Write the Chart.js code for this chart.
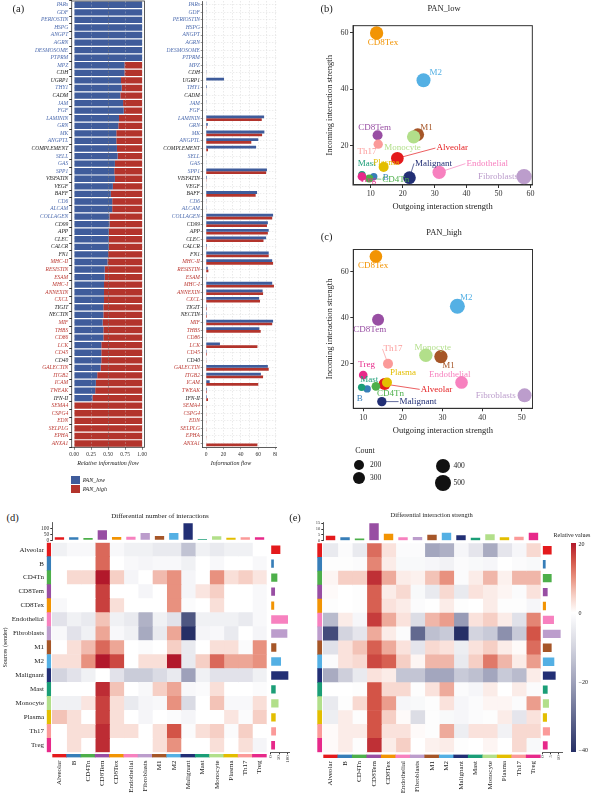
<!DOCTYPE html>
<html><head><meta charset="utf-8">
<script src="https://cdn.jsdelivr.net/npm/chart.js@4.4.1/dist/chart.umd.min.js"></script>
<style>
html,body{margin:0;padding:0;background:#fff;}
body{width:594px;height:794px;position:relative;overflow:hidden;font-family:'Liberation Serif','DejaVu Serif',serif;}
canvas{position:absolute;}
.t{position:absolute;white-space:nowrap;color:#222;line-height:1;}
.sw{position:absolute;}
</style></head><body>
<script>
// ================= DATA =================
const pathways = ['PARs','GDF','PERIOSTIN','HSPG','ANGPT','AGRN','DESMOSOME','PTPRM','MPZ','CDH','UGRP1','THY1','CADM','JAM','FGF','LAMININ','GRN','MK','ANGPTL','COMPLEMENT','SELL','GAS','SPP1','VISFATIN','VEGF','BAFF','CD6','ALCAM','COLLAGEN','CD99','APP','CLEC','CALCR','FN1','MHC-II','RESISTIN','ESAM','MHC-I','ANNEXIN','CXCL','TIGIT','NECTIN','MIF','THBS','CD86','LCK','CD45','CD40','GALECTIN','ITGB2','ICAM','TWEAK','IFN-II','SEMA4','CSPG4','EDN','SELPLG','EPHA','ANXA1'];
// b = enriched in PAN_low, r = enriched in PAN_high, k = not significant
const pathwayEnriched = ('bbbbbbbbb'+'kk'+'b'+'k'+'bbbbbb'+'k'+'bbb'+'kkk'+'bbb'+'kkkkk'+'rrrrrr'+'kk'+'rrrrr'+'k'+'rrrr'+'k'+'rrrrrr').split('');
const relFlowLow = [1,1,1,1,1,1,1,1,0.74,0.74,0.69,0.70,0.68,0.72,0.73,0.66,0.65,0.62,0.62,0.63,0.64,0.60,0.59,0.60,0.57,0.54,0.56,0.56,0.52,0.52,0.51,0.51,0.51,0.50,0.49,0.45,0.45,0.44,0.44,0.44,0.43,0.43,0.42,0.43,0.43,0.40,0.40,0.40,0.39,0.34,0.32,0.31,0.27,0,0,0,0,0,0];
const relFlowHigh = [0,0,0,0,0,0,0,0,0.26,0.26,0.31,0.30,0.32,0.28,0.27,0.34,0.35,0.38,0.38,0.37,0.36,0.40,0.41,0.40,0.43,0.46,0.44,0.44,0.48,0.48,0.49,0.49,0.49,0.50,0.51,0.55,0.55,0.56,0.56,0.56,0.57,0.57,0.58,0.57,0.57,0.60,0.60,0.60,0.61,0.66,0.68,0.69,0.73,1,1,1,1,1,1];
const flowLow = [0.5,0.4,0.3,0.4,0.3,0.3,0.3,0.3,0.4,0.5,20.7,1.0,0.5,0.5,0.4,66.7,2.0,67,60,57.5,0.5,0.4,70,1.0,0.5,58.6,0.5,0.5,77,71,72,69,1.0,72,76,2.0,0.5,76,65,61,0.8,0.8,77,61.3,0.4,16,0.8,0.4,71,63,4.2,1.0,1.0,0,0,0,0,0,0];
const flowHigh = [0,0,0,0,0,0,0,0,0.2,0.2,0.3,0.4,0.3,0.3,0.3,64,0.8,64.4,52,2.3,0.3,0.3,69,0.6,0.4,57,0.4,0.4,76,70,71,66,0.8,72,77,2.7,0.6,78,65.5,62,1.0,1.0,76,62.8,0.5,59,1.0,0.5,72,65.5,60,1.0,2.3,0.5,0.5,0.5,0.5,0.5,59];
const relTicks = [0,0.25,0.5,0.75,1];
const flowTicks = [0,10,20,30,40,50,60,70,80];

const cellTypes = ['Alveolar','B','CD4Tn','CD8Tem','CD8Tex','Endothelial','Fibroblasts','M1','M2','Malignant','Mast','Monocyte','Plasma','Th17','Treg'];
const cellColors = ['#E41A1C','#377EB8','#4DAF4A','#984EA3','#F29403','#F781BF','#BC9DCC','#A65628','#54B0E4','#222F75','#1B9E77','#B2DF8A','#E3BE00','#FB9A99','#E7298A'];

const outgoingLow = [18.3,10.9,9.5,12.1,11.8,31.4,58.0,24.7,26.5,22.1,7.2,23.4,14.0,12.3,7.2];
const incomingLow = [15.5,9.0,8.3,23.7,60.0,10.5,9.0,23.9,43.2,8.6,9.7,23.1,12.4,20.5,9.0];
const countLow    = [333,67,100,200,367,367,467,333,400,333,67,367,200,167,133];
const outgoingHigh = [15.4,11.0,13.2,13.75,13.2,34.8,50.7,29.6,33.75,14.7,9.6,25.8,16.0,16.25,10.0];
const incomingHigh = [11.3,9.2,10.3,39.2,66.6,12.0,6.4,23.2,45.0,3.7,9.9,23.8,12.0,20.1,15.2];
const countHigh    = [300,67,133,300,333,333,400,367,450,167,67,367,200,200,133];
const countLegend = [200,300,400,500];

const diffCountMatrix = [
 [-1,-0.5,-0.5,4,-0.5,-1,-1,-1.5,-1.5,-4,-1,-1.5,-1,-1,0],
 [0,0,0,4,0,-0.5,-0.7,-0.5,-0.5,-1,0,-0.5,0,0,-0.5],
 [0,1.2,1.2,6,1.5,-0.7,0,2,3,-0.7,0,3,1,1.5,0.8],
 [0,0,0,5,0,0,-0.7,0,3,-0.7,0.8,1.5,0,0,-0.5],
 [-0.5,0,0,5,1,0,0,0,3,-0.3,0,1,0,0,-0.5],
 [-2,-1,-1.5,1.8,-1,-1.5,-5,-1,-2,-10,-1,-1,-1,-1.5,-0.5],
 [-0.5,-2,-1,2.5,-0.5,-1,-5.5,-1.5,2.5,-12,-0.7,-0.5,-1.5,0,-0.7],
 [0,1,2,4,2.5,0,-0.3,0,1.5,-1.5,0,1,1,-0.3,3],
 [1,1,3,6,4.8,0,1,1,6,-1.5,1.5,4,2.5,2.5,3],
 [-3,-2,-1,0,-2,-3.5,-3.5,-2.5,-1.5,-6,-1,-2,-2,-2,-1],
 [0,0,0,5.5,1.8,0,-0.5,1.5,2.5,-0.5,-0.3,1,0,0,-0.3],
 [-1,-1,0.8,5,1,-1.5,-0.7,-0.5,3,-2.5,0,1.8,-0.5,-0.5,1],
 [1.8,1,0,5,1,0,-0.7,0,-0.3,-0.7,0,0,0.8,-0.3,1.5],
 [0,1,1,5.5,1,1,0,1,4.5,-0.3,1,1.5,-0.3,1.5,0],
 [0,1,0,5.5,0,0,0,1,3,0,0,1,0,1,-0.7]
];
const diffStrengthMatrix = [
 [-5,-1,-5,13,3,-1,-1,-19,-17,-2,-6,-18,-6,-2,4],
 [-0.5,-0.5,-1,11,2,-1.5,-1.5,-2,-3,-1,-1.5,-2,0,-1,-1.5],
 [1,5,5,18,8,2,1.5,6,10,-1,2,7,1.5,7,7],
 [0.5,0,-0.5,14,2,4,-1.5,-5,4,-5,3,2,1,-1,3],
 [-0.5,0,-0.5,14,3,2,-1,-0.2,2,-0.5,0,2,-0.5,-0.5,-2],
 [-15,2,-2,17,8,3,-8,7,9,-21,3,5,2,-7,11],
 [-35,-10,-6,8,2,-1,-30,-14,-12,-40,-10,-12,-23,-12,15],
 [-7,3,6,14,8,3,-6,4,3,-4,3,5,2,0.5,13],
 [-1,3,4,16,14,5,1,7,7,-5,5,12,7,2,9],
 [-18,-11,-5,3,2,-13,-13,-19,-19,-12,-14,-19,-12,-15,2],
 [0,0,-0.5,15,4,4,-0.5,3,8,-1,-2,2,0,2,-1],
 [-5,-0.5,4,15,9,-2,-1.5,-0.5,3,-2,-1,1,1,-1,9],
 [-4,2,-0.5,15,5,0.5,-8,-0.5,-1.5,-2,-1,-0.5,2,-6,3],
 [0.5,2,2,15,3,3,0.5,-0.5,8,-4,3,3,-3,4,4],
 [0.5,2,-0.5,18,2,5,0,1.5,2,-0.5,0,1,0,4,-1.5]
];
const topBarsCount = [25,25,20,83,28,30,61,36,61,142,11,33,22,25,25];
const sideBarsCount = [58,19,40,26,21,104,100,34,62,106,30,47,30,32,26];
const topBarsStrength = [4.3,2.9,2.0,15,6,2.9,3.2,5.2,6.9,4.6,2.6,5.5,2.9,3.5,6.9];
const sideBarsStrength = [5.6,2,5.6,3.2,2.2,7,11,5.6,7.2,8,3.2,4,2.8,4.6,3.2];
const countTicks = [0,50,100];
const strengthTopTicks = [0,5,10,15];
const strengthSideTicks = [0,5,10];
const colorbarTicks = [20,0,-20,-40];

// ================= STYLE / HELPERS =================
const SERIF = "'Liberation Serif','DejaVu Serif',serif";
const BLUE = '#3F5C9B', RED = '#B3342C';
const LABEL_COLORS = {b:'#4B6AAE', r:'#BC3A33', k:'#1a1a1a'};
const POS_STOPS = [[0,'#FFFFFF'],[0.25,'#F6CFC5'],[0.5,'#E8917F'],[0.75,'#D35447'],[1,'#B2182B']];
const NEG_STOPS = [[0,'#FFFFFF'],[0.25,'#D3D4DF'],[0.5,'#9EA1BA'],[0.75,'#62698F'],[1,'#262F66']];
function hex2rgb(h){return [parseInt(h.slice(1,3),16),parseInt(h.slice(3,5),16),parseInt(h.slice(5,7),16)];}
function ramp(stops,t){t=Math.max(0,Math.min(1,t));for(let i=1;i<stops.length;i++){if(t<=stops[i][0]){const t0=stops[i-1][0],t1=stops[i][0];const f=(t-t0)/(t1-t0);const a=hex2rgb(stops[i-1][1]),b=hex2rgb(stops[i][1]);return 'rgb('+a.map((v,k)=>Math.round(v+(b[k]-v)*f)).join(',')+')';}}return stops[stops.length-1][1];}
function valueColor(v,pmax,nmax){return v>=0?ramp(POS_STOPS,v/pmax):ramp(NEG_STOPS,-v/nmax);}
function setTicks(list){return s=>{s.ticks=list.map(v=>({value:v}));};}

Chart.defaults.font.family = SERIF;
const framePlugin = {id:'frame', afterDatasetsDraw(chart,args,o){ if(!o||!o.color) return; const a=chart.chartArea,ctx=chart.ctx; ctx.save(); ctx.strokeStyle=o.color; ctx.lineWidth=o.width||1; ctx.strokeRect(a.left,a.top,a.right-a.left,a.bottom-a.top); ctx.restore(); }};
const bubbleLabels = {id:'bubbleLabels',
  beforeDatasetsDraw(chart,args,o){ if(!o||!o.names) return; const ctx=chart.ctx; const meta=chart.getDatasetMeta(0); ctx.save(); ctx.font=o.font;
    meta.data.forEach((el,i)=>{ const off=o.offsets[o.names[i]]; if(!off||!off[2]) return; const w=ctx.measureText(o.names[i]).width; const tx=el.x+off[0],ty=el.y+off[1]; const ex=off[0]>=0?tx-w/2-1:tx+w/2+1; ctx.strokeStyle=o.colors[i]; ctx.lineWidth=0.7; ctx.beginPath(); ctx.moveTo(el.x,el.y); ctx.lineTo(ex,ty); ctx.stroke(); });
    ctx.restore(); },
  afterDatasetsDraw(chart,args,o){ if(!o||!o.names) return; const ctx=chart.ctx; const meta=chart.getDatasetMeta(0); ctx.save(); ctx.font=o.font; ctx.textAlign='center'; ctx.textBaseline='middle';
    meta.data.forEach((el,i)=>{ const off=o.offsets[o.names[i]]; if(!off) return; ctx.fillStyle=o.colors[i]; ctx.fillText(o.names[i], el.x+off[0], el.y+off[1]); });
    ctx.restore(); }
};
Chart.register(framePlugin, bubbleLabels);

function makeChart(box, area, axes, cfg){
  const c=document.createElement('canvas'); c.width=box.w; c.height=box.h;
  Object.assign(c.style,{left:box.l+'px',top:box.t+'px',width:box.w+'px',height:box.h+'px'});
  document.body.appendChild(c);
  const pad={left:area.l-box.l-(axes.left||0), right:box.l+box.w-area.r-(axes.right||0), top:area.t-box.t-(axes.top||0), bottom:box.t+box.h-area.b-(axes.bottom||0)};
  cfg.options=cfg.options||{};
  Object.assign(cfg.options,{responsive:false,maintainAspectRatio:false,animation:false,devicePixelRatio:1});
  cfg.options.layout={padding:pad};
  cfg.options.plugins=Object.assign({legend:{display:false},tooltip:{enabled:false},title:{display:false}},cfg.options.plugins||{});
  for(const id in cfg.options.scales){ const s=cfg.options.scales[id]; const pos=s.position||(id==='x'?'bottom':'left'); s.position=pos; const size=axes[pos]||0;
    s.afterFit=sc=>{ if(sc.isHorizontal()) sc.height=size; else sc.width=size; sc.paddingTop=0; sc.paddingBottom=0; sc.paddingLeft=0; sc.paddingRight=0; }; }
  return new Chart(c,cfg);
}
function txt(s,x,y,size,o){o=o||{};const d=document.createElement('div');d.className='t';d.textContent=s;d.style.fontSize=size+'px';d.style.left=x+'px';d.style.top=y+'px';
  d.style.transform=o.anchor==='left'?'translate(0,-50%)':'translate(-50%,-50%)'; if(o.italic)d.style.fontStyle='italic'; if(o.color)d.style.color=o.color; document.body.appendChild(d);}
function box(x,y,w,h,bg,extra){const d=document.createElement('div');d.className='sw';Object.assign(d.style,{left:x+'px',top:y+'px',width:w+'px',height:h+'px',background:bg},extra||{});document.body.appendChild(d);}

const tickFont = (s,st)=>({family:SERIF,size:s,style:st||'normal'});

// ================= (a) relative information flow =================
makeChart({l:0,t:0,w:148,h:462},{l:71.7,t:1,r:144.5,b:447.3},{left:71.7,bottom:12},{
  type:'bar',
  data:{labels:pathways,datasets:[{label:'PAN_low',data:relFlowLow,backgroundColor:BLUE},{label:'PAN_high',data:relFlowHigh,backgroundColor:RED}]},
  options:{indexAxis:'y',datasets:{bar:{barPercentage:0.84,categoryPercentage:1,borderWidth:0}},
    scales:{
      x:{type:'linear',stacked:true,min:-0.035,max:1.035,afterBuildTicks:setTicks(relTicks),
         ticks:{autoSkip:false,callback:v=>Number(v).toFixed(2),font:tickFont(5.5),color:'#333',padding:1.5,maxRotation:0},
         grid:{z:1,color:c=>(c.tick&&c.tick.value===0.5)?'rgba(120,120,120,0.95)':'rgba(205,205,205,0.55)',lineWidth:0.6,tickLength:2.5,tickColor:'#333'},
         border:{display:false,dash:[2,1.5]}},
      y:{type:'category',stacked:true,ticks:{autoSkip:false,font:tickFont(5.5,'italic'),color:c=>LABEL_COLORS[pathwayEnriched[c.index]],padding:1},
         grid:{display:true,drawOnChartArea:false,tickLength:2.5,color:'#333'},border:{display:false}}
    },
    plugins:{frame:{color:'#333',width:0.8}}
  }});

// ================= (a) information flow =================
makeChart({l:148,t:0,w:129,h:462},{l:202.7,t:1,r:277,b:447.3},{left:54.7,bottom:12},{
  type:'bar',
  data:{labels:pathways,datasets:[{label:'PAN_low',data:flowLow,backgroundColor:BLUE},{label:'PAN_high',data:flowHigh,backgroundColor:RED}]},
  options:{indexAxis:'y',datasets:{bar:{barPercentage:1,categoryPercentage:0.74,borderWidth:0,clip:0}},
    scales:{
      x:{type:'linear',min:-3.8,max:81.5,afterBuildTicks:setTicks(flowTicks),
         ticks:{autoSkip:false,callback:v=>(v%20===0?String(v):''),font:tickFont(5.5),color:'#333',padding:1.5,maxRotation:0},
         grid:{color:'#d4d4d4',lineWidth:0.5,tickLength:2,tickColor:c=>(c.tick&&c.tick.value%20===0)?'#333':'rgba(0,0,0,0)'},
         border:{display:true,color:'#333',width:0.8,dash:[1.5,1.5]}},
      y:{type:'category',ticks:{autoSkip:false,font:tickFont(5.5,'italic'),color:c=>LABEL_COLORS[pathwayEnriched[c.index]],padding:0.8},
         grid:{display:true,offset:false,color:'#dadada',lineWidth:0.5,tickLength:2,tickColor:'#333'},
         border:{display:true,color:'#333',width:0.8,dash:[1.5,1.5]}}
    }
  }});

txt('(a)',18.3,9.3,10.5);
txt('Relative information flow',108,463.3,6,{italic:true});
txt('Information flow',231,463.3,6,{italic:true});
box(70.7,475.7,9.3,8.3,BLUE);
box(70.7,484.7,9.3,8.6,RED);
txt('PAN_low',82.7,480,6,{italic:true,anchor:'left'});
txt('PAN_high',82.7,489,6,{italic:true,anchor:'left'});

// ================= (b) / (c) scatter =================
const sizeOf = c => 3 + c/100;
const offsLow = {CD8Tex:[6.4,9.3],M2:[12.3,-8.1],CD8Tem:[-2.9,-7.7],M1:[8.7,-7.4],Monocyte:[-11.1,10.3],Th17:[-11.2,7.8],Alveolar:[54.8,-10.2,1],Plasma:[2.7,-4.1],Malignant:[24,-14.2,1],Endothelial:[48,-8.7,1],Fibroblasts:[-26,0.4],Mast:[4.7,-11],Treg:[6,3.5],B:[12,1],CD4Tn:[26.5,0.7,1]};
const offsHigh = {CD8Tex:[-2.8,9.7],M2:[9,-8.3],CD8Tem:[-8.3,9.6],Th17:[5,-14.8,1],Monocyte:[6.8,-8],M1:[7.6,8.9],Treg:[3.4,-10.4],Plasma:[16,-9.4],Endothelial:[-11.8,-7.7],Mast:[7.6,-7.7],Alveolar:[51.8,5.3,1],CD4Tn:[14.6,7],Fibroblasts:[-28.8,0],B:[-7.3,9.3],Malignant:[36.2,0,1]};

function scatter(bx, area, axes, xs, ys, cs, xr, yr, xt, yt, offs, titlePads){
  makeChart(bx, area, axes, {
    type:'bubble',
    data:{datasets:[{data:xs.map((x,i)=>({x:x,y:ys[i],r:sizeOf(cs[i])})),backgroundColor:cellColors,borderWidth:0,clip:false}]},
    options:{scales:{
      x:{type:'linear',min:xr[0],max:xr[1],afterBuildTicks:setTicks(xt),ticks:{autoSkip:false,font:tickFont(8),color:'#333',padding:1.5,maxRotation:0},
         grid:{drawOnChartArea:false,tickLength:3,color:'#333'},border:{color:'#333'},
         title:{display:true,text:'Outgoing interaction strength',font:tickFont(8.5),color:'#222',padding:{top:0,bottom:titlePads[0]}}},
      y:{type:'linear',min:yr[0],max:yr[1],afterBuildTicks:setTicks(yt),ticks:{font:tickFont(8),color:'#333',padding:1.5},
         grid:{drawOnChartArea:false,tickLength:3,color:'#333'},border:{color:'#333'},
         title:{display:true,text:'Incoming interaction strength',font:tickFont(8.5),color:'#222',padding:{top:titlePads[1],bottom:0}}}},
      plugins:{frame:{color:'#333',width:1},bubbleLabels:{names:cellTypes,colors:cellColors,offsets:offs,font:"9px 'Liberation Serif', serif"}}
    }});
}
scatter({l:322,t:18,w:218,h:196},{l:353,t:21,r:534,b:185},{left:31,bottom:29},outgoingLow,incomingLow,countLow,[4.4,60.6],[6,62.6],[10,20,30,40,50,60],[20,40,60],offsLow,[1.9,2.2]);
scatter({l:322,t:242,w:218,h:196},{l:353.3,t:245,r:534,b:408.3},{left:31.3,bottom:29.7},outgoingHigh,incomingHigh,countHigh,[7.5,52.7],[0.8,69.6],[10,20,30,40,50],[20,40,60],offsHigh,[2.2,2.2]);
txt('(b)',326.7,9.3,10.5);
txt('PAN_low',444,7.5,8.5);
txt('(c)',326.7,237,10.5);
txt('PAN_high',444,232.3,8.5);

// count legend
txt('Count',365,450.7,8);
const legPos = [[359.3,465,370],[359.3,478.3,370],[443.3,466,453.5],[443.3,483.3,453.5]];
countLegend.forEach((c,i)=>{ const d=2*sizeOf(c); const p=legPos[i]; box(p[0]-d/2,p[1]-d/2,d,d,'#111',{borderRadius:'50%'}); txt(String(c),p[2],p[1],7.5,{anchor:'left'}); });

// ================= heatmaps =================
function heatPanel(P){
  const cellSpan = cellTypes.map(()=>1);
  const ds=[{data:cellTypes.map(()=>-P.gapU),backgroundColor:'rgba(0,0,0,0)'},{data:cellTypes.map(()=>-P.stripU),backgroundColor:cellColors}];
  for(let j=0;j<cellTypes.length;j++) ds.push({data:cellSpan,backgroundColor:P.matrix.map(r=>valueColor(r[j],P.pmax,P.nmax))});
  makeChart(P.hBox,P.hArea,{left:P.labelW},{
    type:'bar',data:{labels:cellTypes,datasets:ds},
    options:{indexAxis:'y',datasets:{bar:{barPercentage:1,categoryPercentage:1,borderWidth:0}},
      scales:{x:{type:'linear',stacked:true,display:false,min:-(P.gapU+P.stripU),max:cellTypes.length},
        y:{type:'category',stacked:true,display:P.labelW>0,ticks:{autoSkip:false,font:tickFont(7),color:'#222',padding:2.7},grid:{display:false,drawTicks:false},border:{display:false},
           title:{display:P.labelW>0,text:'Sources (sender)',font:tickFont(6),color:'#222',padding:{top:1.4,bottom:0}}}}}});
  // top bars
  makeChart(P.tBox,P.tArea,{left:P.tArea.l-P.tBox.l},{
    type:'bar',data:{labels:cellTypes,datasets:[{data:P.top,backgroundColor:cellColors,borderWidth:0}]},
    options:{datasets:{bar:{barPercentage:0.65,categoryPercentage:1}},
      scales:{x:{type:'category',display:false},
        y:{type:'linear',min:0,max:P.topMax,afterBuildTicks:setTicks(P.topTicks),ticks:{autoSkip:false,font:tickFont(P.topFont),color:'#333',padding:1},grid:{drawOnChartArea:false,tickLength:2,color:'#333'},border:{color:'#333',width:0.8}}}}});
  // side bars
  makeChart(P.sBox,P.sArea,{bottom:14},{
    type:'bar',data:{labels:cellTypes,datasets:[{data:P.side,backgroundColor:cellColors,borderWidth:0}]},
    options:{indexAxis:'y',datasets:{bar:{barPercentage:0.6,categoryPercentage:1}},
      scales:{y:{type:'category',display:false},
        x:{type:'linear',min:0,max:P.sideMax,afterBuildTicks:setTicks(P.sideTicks),ticks:{autoSkip:false,font:tickFont(5),color:'#333',padding:1,minRotation:90,maxRotation:90},grid:{drawOnChartArea:false,tickLength:2,color:'#333'},border:{color:'#333',width:0.8}}}}});
  // bottom strip + column labels
  makeChart(P.bBox,P.bArea,{bottom:P.bBox.t+P.bBox.h-P.bArea.b},{
    type:'bar',data:{labels:cellTypes,datasets:[{data:cellSpan,backgroundColor:cellColors,borderWidth:0}]},
    options:{datasets:{bar:{barPercentage:1,categoryPercentage:1}},
      scales:{y:{type:'linear',display:false,min:0,max:1},
        x:{type:'category',ticks:{autoSkip:false,font:tickFont(7),color:'#222',padding:3,minRotation:90,maxRotation:90},grid:{display:false,drawTicks:false},border:{display:false}}}}});
}
heatPanel({matrix:diffCountMatrix,pmax:6,nmax:12,gapU:0.112,stripU:0.28,labelW:46.7,
  hBox:{l:0,t:542,w:267,h:211},hArea:{l:46.7,t:542.7,r:266.7,b:752.3},
  top:topBarsCount,topMax:150,topTicks:countTicks,topFont:5.5,tBox:{l:28,t:516,w:239,h:26},tArea:{l:52.3,t:522.3,r:266.7,b:540.3},
  side:sideBarsCount,sideMax:110,sideTicks:countTicks,sBox:{l:268,t:542,w:26,h:226},sArea:{l:270.7,t:542.7,r:289,b:752.3},
  bBox:{l:40,t:753,w:240,h:41},bArea:{l:52.3,t:754,r:266.7,b:757.5}});
heatPanel({matrix:diffStrengthMatrix,pmax:20,nmax:40,gapU:0.11,stripU:0.304,labelW:0,
  hBox:{l:317,t:542,w:225,h:211},hArea:{l:317.3,t:543.3,r:540.7,b:752.3},
  top:topBarsStrength,topMax:16,topTicks:strengthTopTicks,topFont:4.5,tBox:{l:300,t:516,w:241,h:27},tArea:{l:323.3,t:522.1,r:540.7,b:540.7},
  side:sideBarsStrength,sideMax:12,sideTicks:strengthSideTicks,sBox:{l:540,t:542,w:26,h:226},sArea:{l:542.3,t:543.3,r:562.3,b:752.3},
  bBox:{l:311,t:753,w:240,h:41},bArea:{l:323.3,t:754.5,r:540.7,b:758}});

txt('(d)',12.7,518,10.5);
txt('Differential number of interactions',160,515.7,7);
txt('(e)',295,518,10.5);
txt('Differential interaction strength',431.7,515,6.5);

// colour bar legend
const gstops=[]; for(let k=0;k<=30;k++){const f=k/30; gstops.push(valueColor(20-60*f,20,40)+' '+(f*100).toFixed(1)+'%');}
box(571,543.3,5.2,208.4,'linear-gradient(to bottom,'+gstops.join(',')+')');
txt('Relative values',572,535,6);
const cbY = {'20':544.3,'0':612.7,'-20':681.7,'-40':750};
colorbarTicks.forEach(v=>{ txt(v<0?('\u2212'+Math.abs(v)):String(v),578.5,cbY[String(v)],6,{anchor:'left'}); });
</script>
</body></html>
